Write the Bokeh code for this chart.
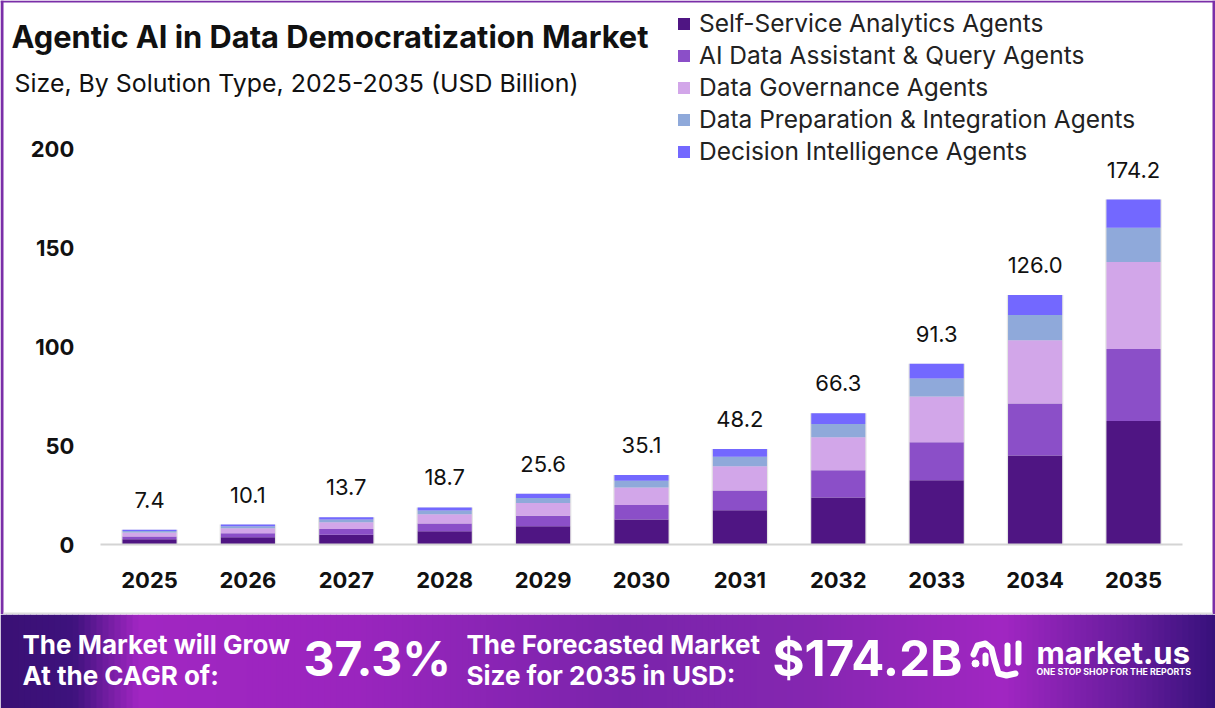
from bokeh.plotting import figure
from bokeh.layouts import column
from bokeh.core.properties import value
from bokeh.models import (ColumnDataSource, Label, Legend, LegendItem, BoxAnnotation,
                          Range1d, FixedTicker, LabelSet)
from bokeh.embed import file_html
from bokeh.resources import INLINE

years = [2025, 2026, 2027, 2028, 2029, 2030, 2031, 2032, 2033, 2034, 2035]
self_service = [2.6, 3.6, 4.9, 6.7, 9.2, 12.6, 17.3, 23.7, 32.5, 45.0, 62.4]
ai_assistant = [1.5, 2.1, 2.9, 3.9, 5.3, 7.3, 10.0, 13.8, 19.2, 26.2, 36.3]
governance = [1.9, 2.5, 3.4, 4.7, 6.5, 8.9, 12.2, 16.7, 23.0, 32.0, 44.0]
preparation = [0.8, 1.0, 1.4, 1.9, 2.5, 3.4, 4.8, 6.6, 9.1, 12.7, 17.3]
decision = [0.6, 0.9, 1.1, 1.5, 2.1, 2.9, 3.9, 5.5, 7.5, 10.1, 14.2]
totals = [7.4, 10.1, 13.7, 18.7, 25.6, 35.1, 48.2, 66.3, 91.3, 126.0, 174.2]
series_names = ["Self-Service Analytics Agents", "AI Data Assistant & Query Agents",
                "Data Governance Agents", "Data Preparation & Integration Agents",
                "Decision Intelligence Agents"]
series_colors = ["#4F1583", "#8B4FC8", "#D2A6E9", "#8FA9DA", "#7368FF"]
y_ticks = [0, 50, 100, 150, 200]

FONT = "Inter"
CHART_H = 614
PX_X = 98.4      # pixels per year
PX_Y = 1.98      # pixels per USD billion
x_start = 2025 - 149 / PX_X
y_start = -(CHART_H - 544) / PX_Y

src = ColumnDataSource(dict(year=years, s0=self_service, s1=ai_assistant, s2=governance,
                            s3=preparation, s4=decision, total=totals,
                            label=[f"{t:.1f}" for t in totals]))

p = figure(width=1215, height=CHART_H, output_backend="svg", toolbar_location=None,
           x_range=Range1d(x_start, x_start + 1215 / PX_X),
           y_range=Range1d(y_start, 544 / PX_Y),
           min_border=0, outline_line_color=None,
           background_fill_color="white", border_fill_color="white")
p.grid.visible = False
p.vbar(x="year", top="total", width=0.575, source=src, fill_color="#888888", fill_alpha=0.22, line_color=None)
rs = p.vbar_stack(["s0", "s1", "s2", "s3", "s4"], x="year", width=0.55, source=src,
                  color=series_colors, line_color=None)
p.add_layout(LabelSet(x="year", y="total", text="label", source=src, y_offset=30,
                      text_align="center", text_baseline="middle", text_font=value(FONT),
                      text_font_size="22px", text_color="#111111"))

xax, yax = p.xaxis[0], p.yaxis[0]
for ax in (xax, yax):
    ax.major_tick_line_color = None
    ax.minor_tick_line_color = None
    ax.major_label_text_font = FONT
    ax.major_label_text_font_style = "bold"
    ax.major_label_text_font_size = "22px"
    ax.major_label_text_color = "#111111"
xax.fixed_location = 0
xax.bounds = (2024.5, 2035.5)
xax.ticker = FixedTicker(ticks=years)
xax.axis_line_color = "#D4D4D4"
xax.axis_line_width = 2
xax.major_label_standoff = 21
yax.fixed_location = 2024.5
yax.axis_line_color = None
yax.major_label_standoff = 20
yax.ticker = FixedTicker(ticks=y_ticks)

legend = Legend(items=[LegendItem(label=n, renderers=[r]) for n, r in zip(series_names, rs)],
                location=(676, 448), orientation="vertical", border_line_color=None,
                background_fill_alpha=0, padding=0, margin=0, spacing=2,
                glyph_width=15, glyph_height=15, label_standoff=8, label_height=22,
                label_text_font=FONT, label_text_font_size="24.5px", label_text_color="#222222")
p.add_layout(legend)


def chart_text(text, x, y, size, bold=False):
    p.add_layout(Label(x=x, y=CHART_H - y, x_units="screen", y_units="screen", text=text,
                       text_font=FONT, text_font_size=size, text_baseline="middle",
                       text_font_style="bold" if bold else "normal", text_color="#111111"))


chart_text("Agentic AI in Data Democratization Market", 11, 36, "30.8px", True)
chart_text("Size, By Solution Type, 2025-2035 (USD Billion)", 14, 82, "24.9px")

BORDER = "#7A2FA8"
for l, r, t, b_, col in [(0, 3, 0, 614, BORDER), (1212, 1215, 0, 614, BORDER), (0, 1215, 0, 2, BORDER),
                         (3, 1212, 612, 614, "#DDDDDD")]:
    p.add_layout(BoxAnnotation(left=l, right=r, top=CHART_H - t, bottom=CHART_H - b_,
                               left_units="screen", right_units="screen", top_units="screen",
                               bottom_units="screen", fill_color=col, fill_alpha=1, line_color=None))

# banner
stops = [(0, (58, 16, 117)), (70, (62, 18, 125)), (135, (161, 38, 194)), (350, (154, 37, 190)),
         (620, (122, 36, 171)), (800, (132, 38, 176)), (1000, (161, 38, 194)), (1130, (100, 28, 155)),
         (1215, (53, 16, 122))]


def grad(x):
    for (a, ca), (b, cb) in zip(stops, stops[1:]):
        if a <= x <= b:
            f = (x - a) / (b - a)
            return "#%02x%02x%02x" % tuple(round(u + (v - u) * f) for u, v in zip(ca, cb))
    return "#35107a"


b = figure(width=1215, height=94, output_backend="svg", toolbar_location=None,
           x_range=Range1d(0, 1215), y_range=Range1d(708, 614), min_border=0,
           outline_line_color=None, border_fill_color="white")
b.axis.visible = False
b.grid.visible = False
xs = list(range(0, 1215, 6))
b.quad(left=xs, right=[x + 6.5 for x in xs], bottom=708, top=614,
       fill_color=[grad(x) for x in xs], line_color=None)


def ban_text(text, x, y, size):
    b.add_layout(Label(x=x, y=y, text=text, text_font=FONT, text_font_size=size, text_baseline="middle",
                       text_font_style="bold", text_color="white"))


ban_text("The Market will Grow", 22, 644, "26px")
ban_text("At the CAGR of:", 22, 675, "26px")
ban_text("37.3%", 303, 658, "48px")
ban_text("The Forecasted Market", 466, 644, "26px")
ban_text("Size for 2035 in USD:", 466, 675, "26px")
ban_text("$174.2B", 772, 658, "49px")
ban_text("market.us", 1036, 652, "31px")
ban_text("ONE STOP SHOP FOR THE REPORTS", 1036, 671, "8.8px")
# logo strokes
W = dict(line_color="white", line_width=6, line_cap="round", line_join="round")
b.line([973, 977, 985, 991, 994, 998, 1006, 1015], [654, 645, 643, 648, 660, 673, 675, 673], **W)
b.line([985, 985], [655, 663], **W)
b.line([1007, 1007], [645, 663], **W)
b.line([1018, 1018], [643, 662], **W)
b.scatter([975], [663], size=7, color="white")

out = column(p, b, spacing=0)
open("out.html", "w").write(file_html(out, INLINE))
